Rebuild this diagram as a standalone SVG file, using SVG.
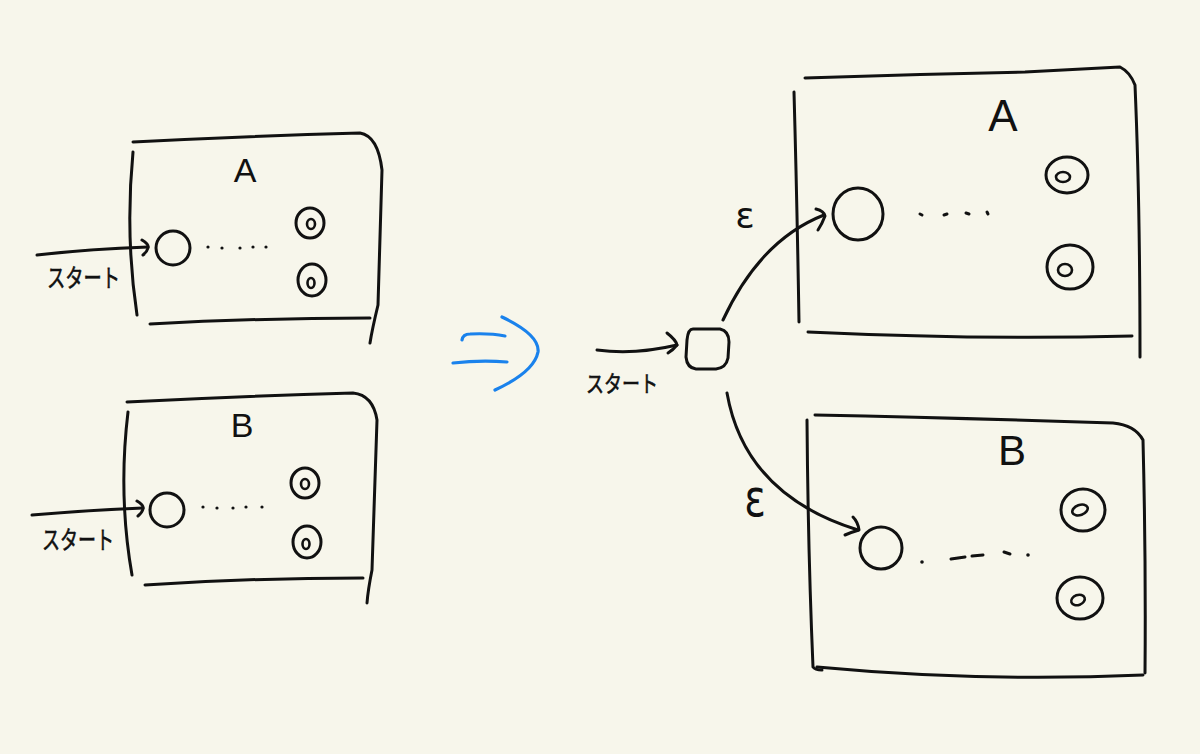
<svg xmlns="http://www.w3.org/2000/svg" width="1200" height="754" viewBox="0 0 1200 754">
<style>
.ln{fill:none;stroke:#111;stroke-width:3;stroke-linecap:round;stroke-linejoin:round}
.in{fill:none;stroke:#111;stroke-width:2.6;stroke-linecap:round}
.dot{fill:#111}
.bl{fill:none;stroke:#1a82ec;stroke-width:3.2;stroke-linecap:round;stroke-linejoin:round}
.lbl{font-family:"Liberation Sans",Arial,sans-serif;fill:#111;text-anchor:middle}
.jp{font-family:"Noto Sans CJK JP","Noto Sans",sans-serif;fill:#111;stroke:#111;stroke-width:0.6}
.eps{font-family:"DejaVu Sans","Liberation Sans",sans-serif;fill:#111;text-anchor:middle}
</style>
<rect width="1200" height="754" fill="#f7f6eb"/>

<!-- Left machine A -->
<g id="left-A">
  <path class="ln" d="M133,142 Q250,136 360,133 Q378,136 382,170 L378,305 Q372,330 370,343"/>
  <path class="ln" d="M133,152 Q125,235 137,315"/>
  <path class="ln" d="M150,324 Q260,318 370,318"/>
  <text class="lbl" x="245" y="182" font-size="34">A</text>
  <g id="left-A-start"><ellipse class="ln" cx="173" cy="248" rx="17" ry="17"/></g>
  <g id="left-A-dots">
    <circle class="dot" cx="208" cy="247" r="1.6"/><circle class="dot" cx="222" cy="248" r="1.6"/>
    <circle class="dot" cx="240" cy="248" r="1.6"/><circle class="dot" cx="253" cy="247" r="1.6"/>
    <circle class="dot" cx="266" cy="247" r="1.6"/>
  </g>
  <g id="left-A-acc1"><ellipse class="ln" cx="310" cy="223" rx="14" ry="15"/><ellipse class="in" cx="311" cy="224" rx="4" ry="5"/></g>
  <g id="left-A-acc2"><ellipse class="ln" cx="312" cy="280" rx="14" ry="16"/><ellipse class="in" cx="311" cy="283" rx="3.5" ry="5"/></g>
  <text class="jp" x="47" y="287" font-size="25" textLength="73" lengthAdjust="spacingAndGlyphs">スタート</text>
</g>

<!-- Left machine B -->
<g id="left-B">
  <path class="ln" d="M127,402 Q240,396 353,393 Q373,395 377,420 L372,570 Q368,590 367,603"/>
  <path class="ln" d="M128,412 Q118,495 132,575"/>
  <path class="ln" d="M145,585 Q250,578 363,578"/>
  <text class="lbl" x="242" y="437" font-size="34">B</text>
  <g id="left-B-start"><ellipse class="ln" cx="167" cy="510" rx="17" ry="17"/></g>
  <g id="left-B-dots">
    <circle class="dot" cx="203" cy="507" r="1.6"/><circle class="dot" cx="217" cy="508" r="1.6"/>
    <circle class="dot" cx="233" cy="508" r="1.6"/><circle class="dot" cx="246" cy="507" r="1.6"/>
    <circle class="dot" cx="262" cy="507" r="1.6"/>
  </g>
  <g id="left-B-acc1"><ellipse class="ln" cx="305" cy="483" rx="14" ry="15"/><ellipse class="in" cx="305" cy="484" rx="4" ry="5"/></g>
  <g id="left-B-acc2"><ellipse class="ln" cx="307" cy="542" rx="14" ry="16"/><ellipse class="in" cx="306" cy="544" rx="3.5" ry="5"/></g>
  <text class="jp" x="42" y="549" font-size="25" textLength="72" lengthAdjust="spacingAndGlyphs">スタート</text>
</g>

<!-- Blue implication arrow -->
<g id="implies">
  <path class="bl" d="M462,340 Q463,334 470,334 Q490,333 505,336"/>
  <path class="bl" d="M453,363 Q480,360 507,362"/>
  <path class="bl" d="M502,317 Q540,335 538,352 Q534,372 495,390"/>
</g>

<!-- New start state -->
<g id="new-start">
  <path class="ln" d="M693,329 L720,329 Q729,331 729,342 L728,358 Q726,368 716,369 L696,369 Q687,368 686,357 L687,340 Q688,329 693,329"/>
  <text class="jp" x="586" y="392" font-size="23" textLength="72" lengthAdjust="spacingAndGlyphs">スタート</text>
</g>

<!-- Right machine A -->
<g id="right-A">
  <path class="ln" d="M805,78 Q915,74 1025,72 L1120,67 Q1130,72 1135,85 Q1140,200 1140,357"/>
  <path class="ln" d="M794,92 Q797,200 799,322"/>
  <path class="ln" d="M808,332 Q980,340 1132,336"/>
  <text class="lbl" x="1003" y="131" font-size="44">A</text>
  <g id="right-A-start"><ellipse class="ln" cx="858" cy="214" rx="25" ry="26"/></g>
  <g id="right-A-dots">
    <path class="ln" d="M920,214 L922,215 M944,215 L947,214 M966,213 L969,214 M987,212 L988,214"/>
  </g>
  <g id="right-A-acc1"><ellipse class="ln" cx="1067" cy="175" rx="21" ry="18"/><ellipse class="in" cx="1063" cy="177" rx="7" ry="5"/></g>
  <g id="right-A-acc2"><ellipse class="ln" cx="1070" cy="267" rx="23" ry="22"/><ellipse class="in" cx="1065" cy="270" rx="7" ry="6"/></g>
</g>

<!-- Right machine B -->
<g id="right-B">
  <path class="ln" d="M815,415 Q960,418 1113,423 Q1135,425 1143,440 Q1146,560 1145,673"/>
  <path class="ln" d="M807,420 Q808,550 813,667 Q815,670 822,670"/>
  <path class="ln" d="M817,667 Q977,682 1143,675"/>
  <text class="lbl" x="1012" y="465" font-size="42">B</text>
  <g id="right-B-start"><ellipse class="ln" cx="881" cy="548" rx="21" ry="21"/></g>
  <g id="right-B-dots">
    <circle class="dot" cx="922" cy="562" r="1.8"/>
    <path class="ln" d="M951,559 L965,557 M972,556 L983,555 M1004,552 L1010,554"/>
    <circle class="dot" cx="1028" cy="555" r="1.8"/>
  </g>
  <g id="right-B-acc1"><ellipse class="ln" cx="1083" cy="510" rx="22" ry="21"/><ellipse class="in" cx="1080" cy="510" rx="8" ry="5" transform="rotate(-20 1080 510)"/></g>
  <g id="right-B-acc2"><ellipse class="ln" cx="1080" cy="598" rx="23" ry="21"/><ellipse class="in" cx="1078" cy="600" rx="7" ry="5" transform="rotate(-20 1078 600)"/></g>
</g>

<!-- Connectors -->
<g id="connectors">
  <path class="ln" d="M37,255 Q90,249 148,247"/>
  <path class="ln" d="M142,240 Q149,244 148,248 Q147,252 143,255"/>
  <path class="ln" d="M32,515 Q90,510 143,508"/>
  <path class="ln" d="M137,501 Q144,505 143,509 Q142,513 138,516"/>
  <path class="ln" d="M597,350 Q635,355 677,345"/>
  <path class="ln" d="M667,333 Q676,340 677,345 Q673,350 668,353"/>
  <path class="ln" d="M723,320 Q760,240 824,215"/>
  <path class="ln" d="M816,209 Q824,211 825,216 Q822,224 818,230"/>
  <path class="ln" d="M727,393 Q745,495 858,530"/>
  <path class="ln" d="M853,517 Q858,522 859,530 Q852,532 845,535"/>
  <text class="eps" x="745" y="228" font-size="36">ε</text>
  <text class="eps" x="755" y="512" font-size="40" transform="translate(755 500) scale(1 1.3) translate(-755 -500)">ε</text>
</g>
</svg>
